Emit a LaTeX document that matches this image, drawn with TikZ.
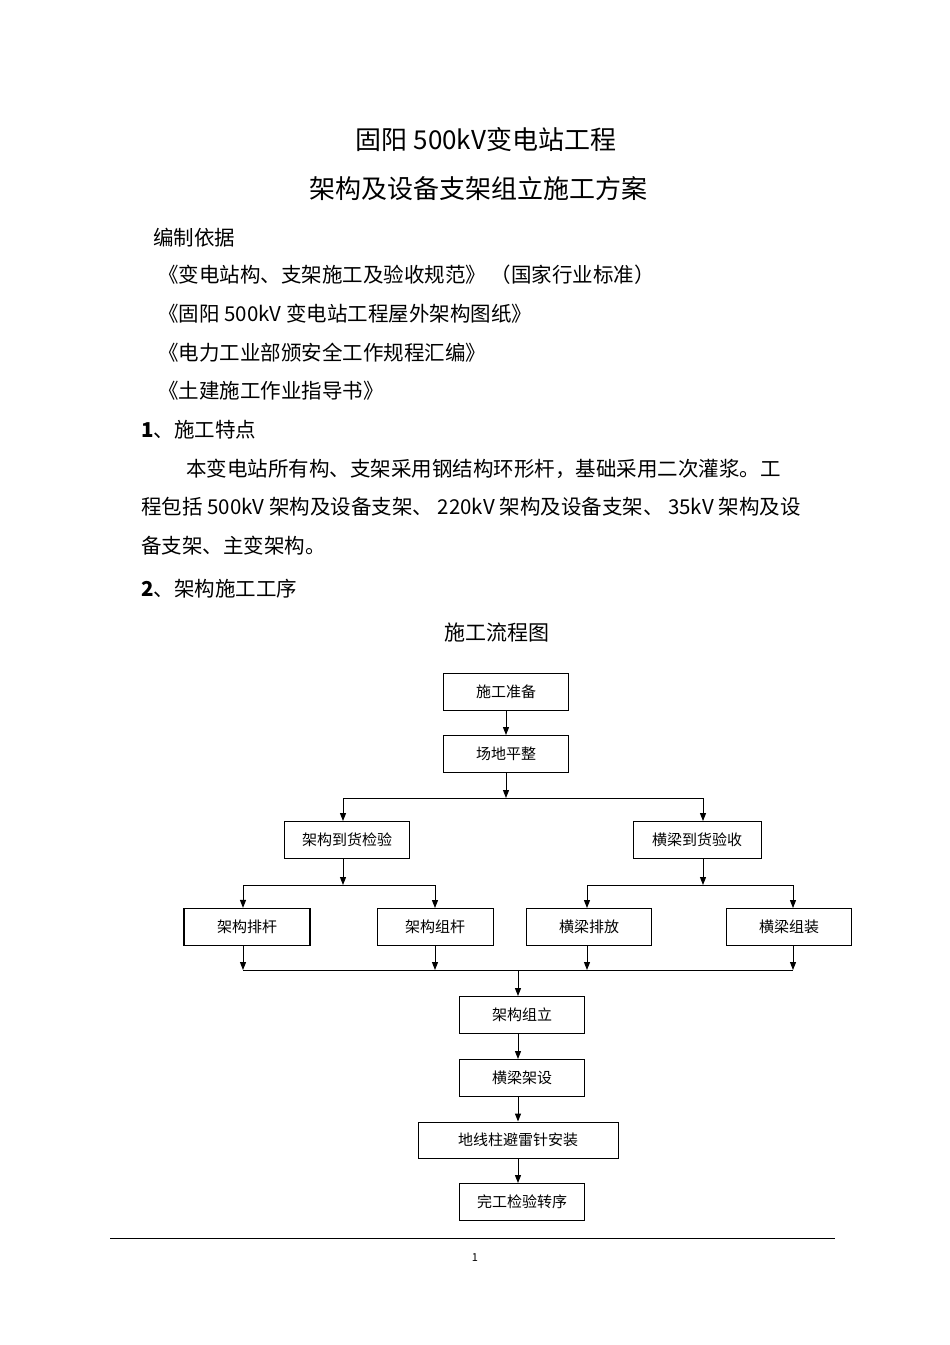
\documentclass[tikz,border=0pt]{standalone}
\usepackage{fontspec}
\setmainfont{Noto Sans CJK SC}
\usetikzlibrary{arrows.meta}
\begin{document}
\begin{tikzpicture}[x=1pt,y=-1pt,
  box/.style={draw,line width=0.9pt,inner sep=0pt,font=\fontsize{15}{15}\selectfont},
  ar/.style={line width=1pt,-{Triangle[width=6pt,length=8pt]}},
  ln/.style={line width=1pt},
  body/.style={anchor=west,inner sep=0pt,font=\fontsize{20.5}{20.5}\selectfont},
  ttl/.style={inner sep=0pt,font=\fontsize{26}{26}\selectfont}]
\useasboundingbox[fill=white] (0,0) rectangle (950,1345);
\node[ttl] (t1) at (486,140) {固阳 500kV变电站工程};
\node[ttl] (t2) at (478,189) {架构及设备支架组立施工方案};
\node[body] (b1) at (153,238) {编制依据};
\node[body] (b2) at (158,275) {《变电站构、支架施工及验收规范》 （国家行业标准）};
\node[body] (b3) at (158,314) {《固阳 500kV 变电站工程屋外架构图纸》};
\node[body] (b4) at (158,353) {《电力工业部颁安全工作规程汇编》};
\node[body] (b5) at (158,391) {《土建施工作业指导书》};
\node[body] (b6) at (141,430) {\textbf{1}、施工特点};
\node[body] (b7) at (186,469) {本变电站所有构、支架采用钢结构环形杆，基础采用二次灌浆。工};
\node[body,text width=695pt,align=justify] (b8) at (141,507) {程包括 500kV 架构及设备支架、 220kV 架构及设备支架、 35kV 架构及设};
\node[body] (b9) at (141,546) {备支架、主变架构。};
\node[body] (b10) at (141,589) {\textbf{2}、架构施工工序};
\node[inner sep=0pt,font=\fontsize{21}{21}\selectfont] (ft) at (497,632) {施工流程图};
% boxes
\node[box,minimum width=125pt,minimum height=37pt] (n1) at (506,692) {施工准备};
\node[box,minimum width=125pt,minimum height=37pt] (n2) at (506,754) {场地平整};
\node[box,minimum width=125pt,minimum height=37pt] (n3) at (347,840) {架构到货检验};
\node[box,minimum width=128pt,minimum height=37pt] (n4) at (697,840) {横梁到货验收};
\node[box,minimum width=126pt,minimum height=37pt,line width=1.2pt] (n5) at (247,927) {架构排杆};
\node[box,minimum width=116pt,minimum height=37pt] (n6) at (435,927) {架构组杆};
\node[box,minimum width=125pt,minimum height=37pt] (n7) at (589,927) {横梁排放};
\node[box,minimum width=125pt,minimum height=37pt] (n8) at (789,927) {横梁组装};
\node[box,minimum width=125pt,minimum height=37pt] (n9) at (522,1015) {架构组立};
\node[box,minimum width=125pt,minimum height=37pt] (n10) at (522,1078) {横梁架设};
\node[box,minimum width=200pt,minimum height=36pt] (n11) at (518,1140) {地线柱避雷针安装};
\node[box,minimum width=125pt,minimum height=37pt] (n12) at (522,1202) {完工检验转序};
% coordinates
\coordinate (s1) at (506,798);
\coordinate (s1l) at (343,798);
\coordinate (s1r) at (703,798);
\coordinate (s2) at (343,885);
\coordinate (s2l) at (243,885);
\coordinate (s2r) at (435,885);
\coordinate (s3) at (703,885);
\coordinate (s3l) at (587,885);
\coordinate (s3r) at (793,885);
\coordinate (m5) at (243,970);
\coordinate (m6) at (435,970);
\coordinate (m7) at (587,970);
\coordinate (m8) at (793,970);
\coordinate (mm) at (518,970);
% connectors
\draw[ar] (n1) -- (n2);
\draw[ar] (n2.south) -- (s1);
\draw[ln] (s1l) -- (s1r);
\draw[ar] (s1l) -- (s1l|-n3.north);
\draw[ar] (s1r) -- (s1r|-n4.north);
\draw[ar] (s2|-n3.south) -- (s2);
\draw[ar] (s3|-n4.south) -- (s3);
\draw[ln] (s2l) -- (s2r);
\draw[ln] (s3l) -- (s3r);
\draw[ar] (s2l) -- (s2l|-n5.north);
\draw[ar] (s2r) -- (s2r|-n6.north);
\draw[ar] (s3l) -- (s3l|-n7.north);
\draw[ar] (s3r) -- (s3r|-n8.north);
\draw[ar] (m5|-n5.south) -- (m5);
\draw[ar] (m6|-n6.south) -- (m6);
\draw[ar] (m7|-n7.south) -- (m7);
\draw[ar] (m8|-n8.south) -- (m8);
\draw[ln] (m5) -- (m8);
\draw[ar] (mm) -- (mm|-n9.north);
\draw[ar] (mm|-n9.south) -- (mm|-n10.north);
\draw[ar] (mm|-n10.south) -- (n11.north);
\draw[ar] (n11.south) -- (mm|-n12.north);
% footer
\coordinate (r1) at (110,1238);
\coordinate (r2) at (835,1238);
\draw[line width=0.8pt] (r1) -- (r2);
\node[inner sep=0pt,font=\fontsize{11}{11}\selectfont] (pg) at (475,1258) {1};
\end{tikzpicture}
\end{document}
